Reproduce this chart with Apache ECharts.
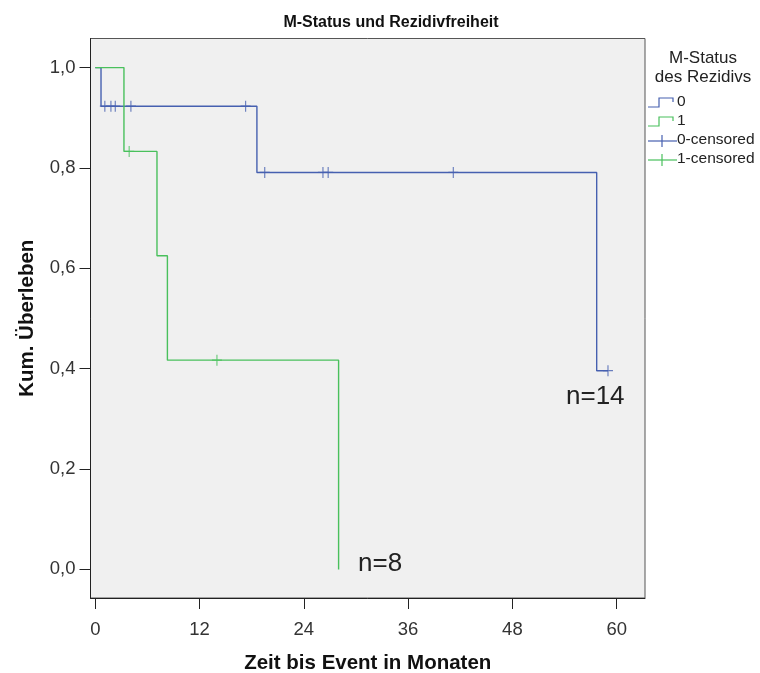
<!DOCTYPE html>
<html>
<head>
<meta charset="utf-8">
<script src="https://cdn.jsdelivr.net/npm/echarts@6/dist/echarts.min.js"></script>
<style>
  html, body { margin: 0; padding: 0; background: #ffffff; }
  #chart { width: 760px; height: 673px; }
</style>
</head>
<body>
<div id="chart"></div>
<script>
// Kaplan-Meier estimates per M-Status group (months, cumulative survival)
const group0Times = [0, 0.66, 18.6, 57.7, 59.0];
const group0Surv  = [1.0, 0.923, 0.791, 0.396, 0.396];
const group1Times = [0, 3.3, 7.1, 8.3, 28.0];
const group1Surv  = [1.0, 0.833, 0.625, 0.417, 0.0];

// censored observations
const group0CensTimes = [1.1, 1.8, 2.3, 4.1, 17.3, 19.5, 26.2, 26.8, 41.2, 59.0];
const group0CensSurv  = [0.923, 0.923, 0.923, 0.923, 0.923, 0.791, 0.791, 0.791, 0.791, 0.396];
const group1CensTimes = [3.9, 14.0];
const group1CensSurv  = [0.833, 0.417];

const xTicks = [0, 12, 24, 36, 48, 60];
const yTicks = [0, 0.2, 0.4, 0.6, 0.8, 1.0];

const groupNames = ['0', '1', '0-censored', '1-censored'];
const groupCounts = ['n=14', 'n=8'];

const BLUE = '#4660b0';
const GREEN = '#49c05c';
const FONT = 'Liberation Sans, Arial, sans-serif';

const zip = (xs, ys) => xs.map((x, i) => [x, ys[i]]);
const plusSymbol = 'path://M5,0 L5,10 M0,5 L10,5';

const chart = echarts.init(document.getElementById('chart'), null, { renderer: 'canvas' });

// legend drawn by hand to the right of the plot
const legendY = [103, 122, 141, 160];
const stepIcon = (y, color) => ({
  type: 'polyline',
  shape: { points: [[648, y + 4], [659, y + 4], [659, y - 5], [673, y - 5], [673, y - 1]] },
  style: { stroke: color, fill: null, lineWidth: 1.2 }
});
const plusIcon = (y, color) => ({
  type: 'group',
  children: [
    { type: 'line', shape: { x1: 648, y1: y, x2: 677, y2: y }, style: { stroke: color, lineWidth: 1.2 } },
    { type: 'line', shape: { x1: 662, y1: y - 6, x2: 662, y2: y + 6 }, style: { stroke: color, lineWidth: 1.2 } }
  ]
});
const legendText = (y, t) => ({
  type: 'text', left: 677, top: y - 9,
  style: { text: t, font: '15.5px ' + FONT, fill: '#222' }
});
const centeredText = (cx, cy, t, size) => ({
  type: 'text', x: cx, y: cy,
  style: { text: t, font: size + 'px ' + FONT, fill: '#222', align: 'center', verticalAlign: 'middle' }
});

chart.setOption({
  animation: false,
  backgroundColor: '#ffffff',
  title: {
    text: 'M-Status und Rezidivfreiheit',
    left: 386, top: 10, textAlign: 'center',
    textStyle: { fontFamily: FONT, fontWeight: 'bold', fontSize: 16, color: '#111' }
  },
  grid: {
    left: 90.5, right: 115, top: 38.5, bottom: 75,
    outerBoundsMode: 'none',
    show: true, backgroundColor: '#f0f0f0', borderColor: '#555', borderWidth: 1
  },
  xAxis: {
    type: 'value', min: -0.55, max: 63.26,
    name: 'Zeit bis Event in Monaten', nameLocation: 'middle', nameGap: 55,
    nameTextStyle: { fontFamily: FONT, fontWeight: 'bold', fontSize: 20.5, color: '#111' },
    axisLine: { show: true, onZero: false, lineStyle: { color: '#222', width: 1 } },
    axisTick: { show: true, length: 11, lineStyle: { color: '#222' }, customValues: xTicks },
    axisLabel: { fontFamily: FONT, fontSize: 18.5, color: '#333', margin: 22, customValues: xTicks },
    splitLine: { show: false }
  },
  yAxis: {
    type: 'value', min: -0.057, max: 1.058,
    name: 'Kum. Überleben', nameLocation: 'middle', nameGap: 53, nameRotate: 90,
    nameTextStyle: { fontFamily: FONT, fontWeight: 'bold', fontSize: 20.5, color: '#111' },
    axisLine: { show: true, onZero: false, lineStyle: { color: '#222', width: 1 } },
    axisTick: { show: true, length: 11, lineStyle: { color: '#222' }, customValues: yTicks },
    axisLabel: {
      fontFamily: FONT, fontSize: 18.5, color: '#333', margin: 15, customValues: yTicks,
      formatter: v => v.toFixed(1).replace('.', ',')
    },
    splitLine: { show: false }
  },
  series: [
    {
      name: groupNames[0], type: 'line', step: 'end', showSymbol: false,
      data: zip(group0Times, group0Surv),
      lineStyle: { color: BLUE, width: 1.4 }, z: 2
    },
    {
      name: groupNames[1], type: 'line', step: 'end', showSymbol: false,
      data: zip(group1Times, group1Surv),
      lineStyle: { color: GREEN, width: 1.4 }, z: 3
    },
    {
      name: groupNames[2], type: 'scatter', symbol: plusSymbol, symbolSize: [10, 11],
      data: zip(group0CensTimes, group0CensSurv),
      itemStyle: { color: 'none', borderColor: BLUE, borderWidth: 1.2 }, z: 4
    },
    {
      name: groupNames[3], type: 'scatter', symbol: plusSymbol, symbolSize: [10, 11],
      data: zip(group1CensTimes, group1CensSurv),
      itemStyle: { color: 'none', borderColor: GREEN, borderWidth: 1.2 }, z: 4
    }
  ],
  graphic: [
    centeredText(703, 58, 'M-Status', 17),
    centeredText(703, 77, 'des Rezidivs', 17),
    stepIcon(legendY[0], BLUE), legendText(legendY[0], groupNames[0]),
    stepIcon(legendY[1], GREEN), legendText(legendY[1], groupNames[1]),
    plusIcon(legendY[2], BLUE), legendText(legendY[2], groupNames[2]),
    plusIcon(legendY[3], GREEN), legendText(legendY[3], groupNames[3]),
    { type: 'text', left: 566, top: 384, style: { text: groupCounts[0], font: '26px ' + FONT, fill: '#222' } },
    { type: 'text', left: 358, top: 551, style: { text: groupCounts[1], font: '26px ' + FONT, fill: '#222' } }
  ]
});
</script>
</body>
</html>
